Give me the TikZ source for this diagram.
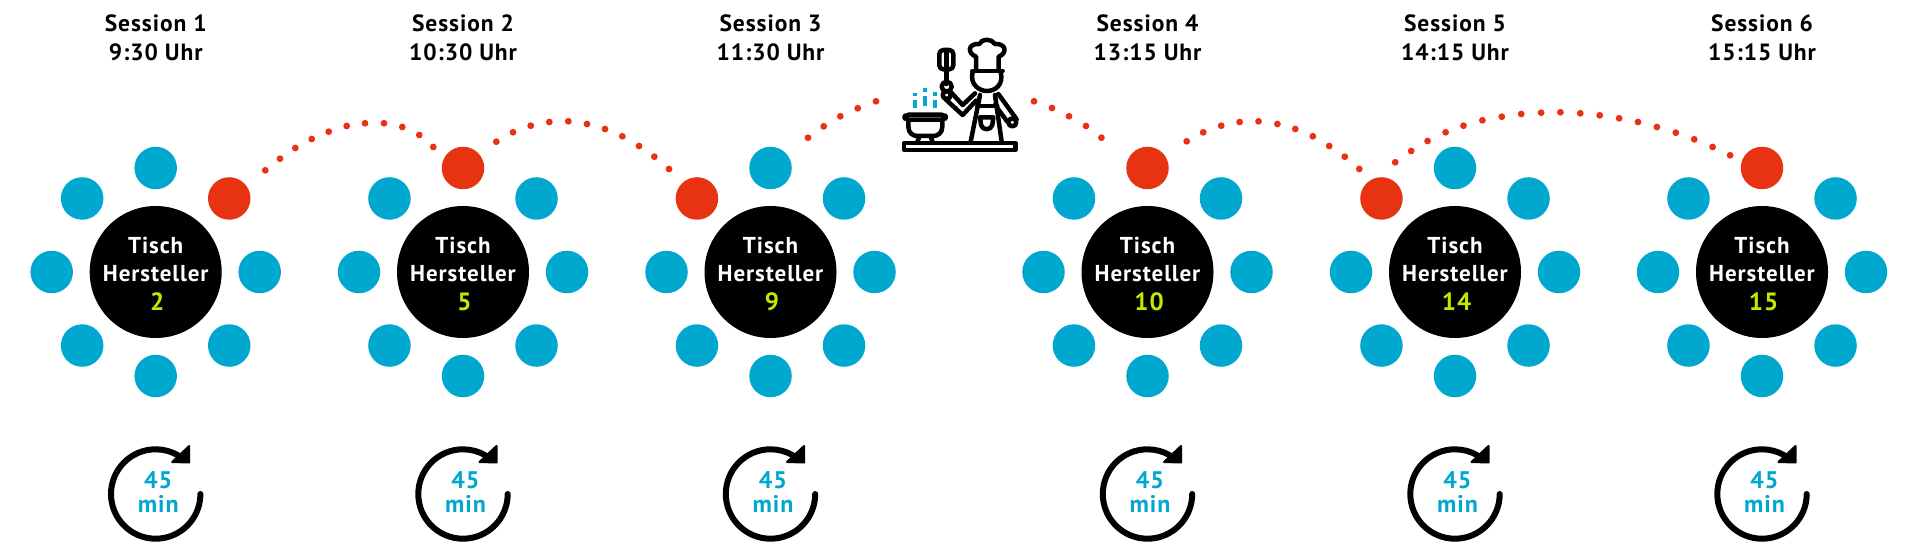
\documentclass[tikz,border=0pt]{standalone}
\usepackage{fontspec}
\usetikzlibrary{calc}
\setmainfont[LetterSpace=4]{PT Sans}
\definecolor{tblue}{HTML}{00A7CE}
\definecolor{tred}{HTML}{E73312}
\definecolor{tlime}{HTML}{C9E600}
\tikzset{
  seat/.style={circle,fill=tblue,draw=none,minimum size=42.5pt,inner sep=0pt},
  hostseat/.style={seat,fill=tred},
  tablebig/.style={circle,fill=black,draw=none,minimum size=132pt,inner sep=0pt},
  tabletext/.style={anchor=base,inner sep=0pt,text=white,font=\fontsize{23}{23}\selectfont\bfseries},
  tablenum/.style={anchor=base,inner sep=0pt,text=tlime,font=\fontsize{25}{25}\selectfont\bfseries},
  headtext/.style={anchor=base,inner sep=0pt,text=black,font=\fontsize{23.5}{24}\selectfont\bfseries},
  mintext/.style={anchor=base,inner sep=0pt,text=tblue,font=\fontsize{24}{24}\selectfont\bfseries},
  reddot/.style={circle,fill=tred,draw=none,minimum size=6.8pt,inner sep=0pt},
  chefline/.style={draw=black,line width=4.5pt,line join=round,line cap=round},
  steam/.style={fill=tblue,draw=none},
  timerring/.style={draw=black,line width=6pt,line cap=round},
  timertip/.style={fill=black,draw=black,line width=2pt,line join=round}
}
\begin{document}
\begin{tikzpicture}[x=1pt,y=-1pt]
\useasboundingbox (0,0) rectangle (1920,553);
\fill[white] (0,0) rectangle (1920,553);
% clusters: id / centre x / number / session / time / angle of the red seat
\foreach \id/\cx/\num/\sess/\tm/\ra in {
  a/155.7/2/Session 1/9:30 Uhr/45,
  b/463/5/Session 2/10:30 Uhr/90,
  c/770.5/9/Session 3/11:30 Uhr/135,
  d/1147.5/10/Session 4/13:15 Uhr/90,
  e/1455/14/Session 5/14:15 Uhr/135,
  f/1762/15/Session 6/15:15 Uhr/90}{
  \node[tablebig] (t\id) at (\cx,272) {};
  \foreach \ang in {0,45,...,315}{
    \pgfmathtruncatemacro{\isred}{\ang==\ra ? 1 : 0}
    \ifnum\isred=1
      \node[hostseat] (s\id\ang) at ($(\cx,272)+(\ang:104pt)$) {};
    \else
      \node[seat] (s\id\ang) at ($(\cx,272)+(\ang:104pt)$) {};
    \fi
  }
  \node[tabletext] (ta\id) at (\cx,253.3) {Tisch};
  \node[tabletext] (tb\id) at (\cx,281.7) {Hersteller};
  \node[tablenum] (tn\id) at (\cx+1.5,311) {\num};
  \node[headtext] (ha\id) at (\cx,32) {\sess};
  \node[headtext] (hb\id) at (\cx,61) {\tm};
  % timer
  \draw[timerring] (\cx+44.7,494) arc[start angle=0,end angle=300,x radius=44.7pt,y radius=-44.7pt];
  \fill[timertip] (\cx+33.5,446) -- (\cx+33.5,462.5) -- (\cx+16.5,462) -- cycle;
  \node[mintext] (ma\id) at (\cx+2.5,488) {45};
  \node[mintext] (mb\id) at (\cx+2.5,512) {min};
}
% dotted connectors
\foreach \x/\y [count=\i] in {265.3/170.3,280/158.7,295.3/148,311.7/139,328.7/131.7,346.7/126,365/123.3,384/123.3,402.3/127,419.3/135,433.3/147}
  \node[reddot] (da\i) at (\x,\y) {};
\foreach \x/\y [count=\i] in {496.3/141.7,513/132.3,530.7/125.7,549.3/122,568.3/121.3,587/124,605/129,622.3/136.3,639/146,654.3/156.7,669/169}
  \node[reddot] (db\i) at (\x,\y) {};
\foreach \x/\y [count=\i] in {808/137.7,823.7/126.3,840.3/116.3,857.7/108.3,876/101.3}
  \node[reddot] (dc\i) at (\x,\y) {};
\foreach \x/\y [count=\i] in {1034/101.3,1052/108,1069/116.3,1086/126,1101.4/137.7}
  \node[reddot] (dd\i) at (\x,\y) {};
\foreach \x/\y [count=\i] in {1186.7/141.3,1203.2/132.3,1221.2/125.7,1239.6/122,1258.5/121.3,1277.4/124,1295.3/129,1312.8/136.3,1329.2/146,1344.8/156.7,1359.3/169}
  \node[reddot] (de\i) at (\x,\y) {};
\foreach \x/\y [count=\i] in {1395.2/162.3,1411.2/151,1427.6/141,1445.6/132.3,1463.5/125.7,1482.4/120.3,1501.8/116.7,1521.2/114,1541.1/112.7,1560.4/112.3,1580.3/113.3,1599.7/115.3,1619.1/118.3,1638/122,1656.9/127,1675.8/132.7,1694.2/139.3,1712.6/147,1730.1/155.3}
  \node[reddot] (df\i) at (\x,\y) {};
% chef icon
\begin{scope}[shift={(880,10)},x=0.33333pt,y=-0.33333pt]
  % steam
  \fill[steam] (100,270) rectangle (112,293);
  \fill[steam] (100,248) rectangle (112,258);
  \fill[steam] (129,258) rectangle (141,288);
  \fill[steam] (129,235) rectangle (141,246);
  \fill[steam] (158,270) rectangle (170,293);
  \fill[steam] (158,247) rectangle (170,258);
  % counter
  \draw[chefline] (72.5,399.5) rectangle (406.5,419.5);
  % pot
  \draw[chefline,rounded corners=4pt] (74,314) rectangle (197,329);
  \draw[chefline] (85,332) -- (85,350) .. controls (85,370) and (100,378) .. (112,378) -- (160,378) .. controls (172,378) and (187,370) .. (187,350) -- (187,332);
  \draw[chefline] (118,380) -- (112,396);
  \draw[chefline] (152,380) -- (158,396);
  % spatula
  \draw[chefline,rounded corners=4pt] (178,120) rectangle (220,178);
  \draw[chefline] (199,122) -- (199,176);
  \draw[chefline] (199,178) -- (199,222);
  \draw[chefline] (200,230) circle[radius=5pt];
  \draw[chefline] (200,255) circle[radius=4pt];
  % left arm
  \draw[chefline] (214,248) -- (248,285) -- (285,250);
  \draw[chefline] (197,268) -- (248,315) -- (288,272);
  % right arm
  \draw[chefline] (355,252) -- (410,328);
  \draw[chefline] (345,285) -- (382,335);
  \draw[chefline] (397,337) circle[radius=4pt];
  % apron
  \draw[chefline] (300,255) -- (272,395);
  \draw[chefline] (345,255) -- (365,395);
  \draw[chefline] (292,288) -- (352,288);
  \draw[chefline] (300,322) -- (340,322) -- (337,345) .. controls (332,362) and (308,362) .. (303,345) -- cycle;
  % head and hat
  \draw[chefline] (277,183) -- (368,183);
  \draw[chefline] (278,186) .. controls (268,225) and (300,243) .. (320,243) .. controls (345,243) and (372,225) .. (362,186);
  \draw[chefline] (288,180) -- (288,140) .. controls (262,130) and (262,100) .. (298,102) .. controls (305,85) and (335,85) .. (345,102) .. controls (380,100) and (382,130) .. (356,140) -- (356,180);
\end{scope}
\end{tikzpicture}
\end{document}
